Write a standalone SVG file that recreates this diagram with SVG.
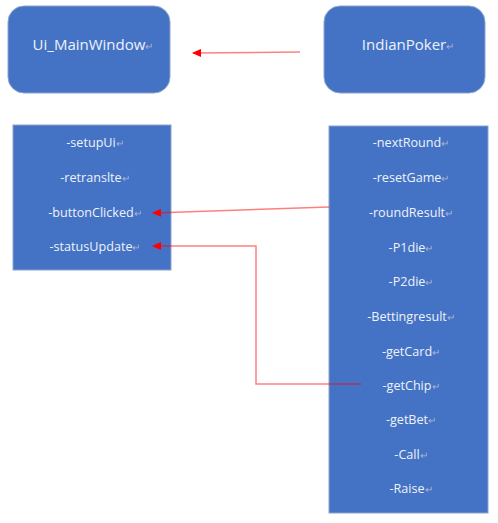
<svg xmlns="http://www.w3.org/2000/svg" width="498" height="523" viewBox="0 0 498 523">
<style>
.box{fill:#4472C4;stroke:#8EA4CF;stroke-width:1}
.t{font-family:"Open Sans","Noto Sans","Liberation Sans",sans-serif;fill:#EEF2FA;text-anchor:middle}
.title{font-size:15px}
.m{font-size:12.6px}
.r{fill:#A9B6D4;font-size:10px}
.link{fill:none;stroke:#FF0000;stroke-opacity:0.5;stroke-width:1.5}
</style>
<defs>
<marker id="ah" markerWidth="9" markerHeight="8" refX="8" refY="4" orient="auto" markerUnits="userSpaceOnUse">
<path d="M0,0 L9,4 L0,8 Z" fill="#FF0000"/>
</marker>
</defs>
<rect width="498" height="523" fill="#FFFFFF"/>
<g id="ui_mainwindow">
<rect class="box" x="8" y="6" width="162" height="87" rx="16"/>
<text class="t title" x="93" y="50">Ui_MainWindow<tspan class="r">↵</tspan></text>
</g>
<g id="indianpoker">
<rect class="box" x="324" y="6" width="161" height="87" rx="16"/>
<text class="t title" x="408" y="50">IndianPoker<tspan class="r">↵</tspan></text>
</g>
<g id="ui_methods">
<rect class="box" x="13" y="125" width="158" height="145"/>
<text class="t m" x="95" y="147">-setupUi<tspan class="r">↵</tspan></text>
<text class="t m" x="95" y="182">-retranslte<tspan class="r">↵</tspan></text>
<text class="t m" x="95" y="217">-buttonClicked<tspan class="r">↵</tspan></text>
<text class="t m" x="95" y="251">-statusUpdate<tspan class="r">↵</tspan></text>
</g>
<g id="poker_methods">
<rect class="box" x="329" y="126" width="159" height="387"/>
<text class="t m" x="411" y="147">-nextRound<tspan class="r">↵</tspan></text>
<text class="t m" x="411" y="182">-resetGame<tspan class="r">↵</tspan></text>
<text class="t m" x="411" y="217">-roundResult<tspan class="r">↵</tspan></text>
<text class="t m" x="411" y="252">-P1die<tspan class="r">↵</tspan></text>
<text class="t m" x="411" y="286">-P2die<tspan class="r">↵</tspan></text>
<text class="t m" x="411" y="321">-Bettingresult<tspan class="r">↵</tspan></text>
<text class="t m" x="411" y="356">-getCard<tspan class="r">↵</tspan></text>
<text class="t m" x="411" y="390">-getChip<tspan class="r">↵</tspan></text>
<text class="t m" x="411" y="424">-getBet<tspan class="r">↵</tspan></text>
<text class="t m" x="411" y="459">-Call<tspan class="r">↵</tspan></text>
<text class="t m" x="411" y="493">-Raise<tspan class="r">↵</tspan></text>
</g>
<g id="connectors">
<path class="link" d="M300,52 L193,53" marker-end="url(#ah)"/>
<path class="link" d="M329,207 L153,213" marker-end="url(#ah)"/>
<path class="link" d="M361,384 L256,384 L256,246 L153,246" marker-end="url(#ah)"/>
</g>
</svg>
